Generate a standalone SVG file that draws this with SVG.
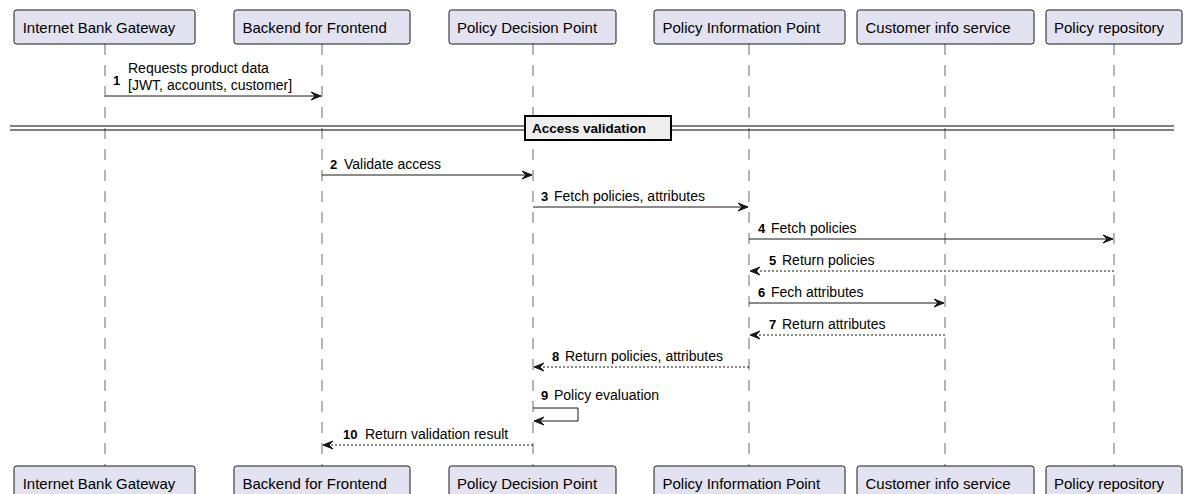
<svg xmlns="http://www.w3.org/2000/svg" width="1184" height="494" viewBox="0 0 1184 494">
<defs>
<style>
.p rect{fill:#E2E2F0;stroke:#181818;stroke-width:1}
.p text{font-family:"Liberation Sans",Arial,sans-serif;font-size:15px;fill:#000}
.life{stroke:#6b6b6b;stroke-width:1;stroke-dasharray:11,10}
.msg{stroke:#181818;stroke-width:1;fill:none}
.ret{stroke:#181818;stroke-width:1;fill:none;stroke-dasharray:2,2}
.t{font-family:"Liberation Sans",Arial,sans-serif;font-size:14px;fill:#000}
.n{font-family:"Liberation Sans",Arial,sans-serif;font-size:13px;font-weight:bold;fill:#000}
.ah{fill:#181818;stroke:#181818;stroke-width:1}
</style>
<marker id="arr" markerWidth="12" markerHeight="10" refX="10" refY="5" orient="auto" markerUnits="userSpaceOnUse">
<polygon points="0,1 10,5 0,9 4,5" class="ah"/>
</marker>
</defs>
<rect width="1184" height="494" fill="#fff"/>
<g id="lifelines">
<line class="life" x1="105" y1="44" x2="105" y2="466"/>
<line class="life" x1="322" y1="44" x2="322" y2="466"/>
<line class="life" x1="533" y1="44" x2="533" y2="466"/>
<line class="life" x1="749" y1="44" x2="749" y2="466"/>
<line class="life" x1="945" y1="44" x2="945" y2="466"/>
<line class="life" x1="1114" y1="44" x2="1114" y2="466"/>
</g>
<g id="p-ibg" class="p">
<rect x="14" y="10" width="181" height="34" rx="2.5"/><text x="22.7" y="33">Internet Bank Gateway</text>
<rect x="14" y="466" width="181" height="34" rx="2.5"/><text x="22.7" y="489">Internet Bank Gateway</text>
</g>
<g id="p-bff" class="p">
<rect x="234" y="10" width="176" height="34" rx="2.5"/><text x="242.5" y="33">Backend for Frontend</text>
<rect x="234" y="466" width="176" height="34" rx="2.5"/><text x="242.5" y="489">Backend for Frontend</text>
</g>
<g id="p-pdp" class="p">
<rect x="449" y="10" width="167" height="34" rx="2.5"/><text x="457" y="33">Policy Decision Point</text>
<rect x="449" y="466" width="167" height="34" rx="2.5"/><text x="457" y="489">Policy Decision Point</text>
</g>
<g id="p-pip" class="p">
<rect x="654" y="10" width="191" height="34" rx="2.5"/><text x="662.5" y="33">Policy Information Point</text>
<rect x="654" y="466" width="191" height="34" rx="2.5"/><text x="662.5" y="489">Policy Information Point</text>
</g>
<g id="p-cis" class="p">
<rect x="857" y="10" width="177" height="34" rx="2.5"/><text x="865.5" y="33">Customer info service</text>
<rect x="857" y="466" width="177" height="34" rx="2.5"/><text x="865.5" y="489">Customer info service</text>
</g>
<g id="p-repo" class="p">
<rect x="1046" y="10" width="136" height="34" rx="2.5"/><text x="1054" y="33">Policy repository</text>
<rect x="1046" y="466" width="136" height="34" rx="2.5"/><text x="1054" y="489">Policy repository</text>
</g>
<g id="divider">
<line x1="10" y1="126" x2="1174" y2="126" stroke="#000" stroke-width="1"/>
<line x1="10" y1="130" x2="1174" y2="130" stroke="#000" stroke-width="1"/>
<rect x="525" y="116" width="146" height="24" fill="#EEEEEE" stroke="#000" stroke-width="2"/>
<text x="532" y="133" font-family="'Liberation Sans',Arial,sans-serif" font-size="13.5" font-weight="bold">Access validation</text>
</g>
<g id="connectors">
<line class="msg" x1="105" y1="96" x2="321" y2="96" marker-end="url(#arr)"/>
<text class="n" x="113" y="85">1</text>
<text class="t" x="128" y="73">Requests product data</text>
<text class="t" x="128" y="90">[JWT, accounts, customer]</text>

<line class="msg" x1="322" y1="175" x2="532" y2="175" marker-end="url(#arr)"/>
<text class="n" x="330" y="169">2</text><text class="t" x="344" y="169">Validate access</text>

<line class="msg" x1="533" y1="207" x2="748" y2="207" marker-end="url(#arr)"/>
<text class="n" x="541" y="201">3</text><text class="t" x="554" y="201">Fetch policies, attributes</text>

<line class="msg" x1="749" y1="239" x2="1113" y2="239" marker-end="url(#arr)"/>
<text class="n" x="758" y="233">4</text><text class="t" x="771" y="233">Fetch policies</text>

<line class="ret" x1="1114" y1="271" x2="750" y2="271" marker-end="url(#arr)"/>
<text class="n" x="769" y="265">5</text><text class="t" x="782" y="265">Return policies</text>

<line class="msg" x1="749" y1="303" x2="944" y2="303" marker-end="url(#arr)"/>
<text class="n" x="758" y="297">6</text><text class="t" x="771" y="297">Fech attributes</text>

<line class="ret" x1="945" y1="335" x2="750" y2="335" marker-end="url(#arr)"/>
<text class="n" x="769" y="329">7</text><text class="t" x="782" y="329">Return attributes</text>

<line class="ret" x1="749" y1="367" x2="534" y2="367" marker-end="url(#arr)"/>
<text class="n" x="552" y="361">8</text><text class="t" x="565" y="361">Return policies, attributes</text>

<polyline class="msg" points="533,408 578,408 578,421 534,421" marker-end="url(#arr)"/>
<text class="n" x="541" y="400">9</text><text class="t" x="554" y="400">Policy evaluation</text>

<line class="ret" x1="533" y1="445" x2="323" y2="445" marker-end="url(#arr)"/>
<text class="n" x="343" y="439">10</text><text class="t" x="365" y="439">Return validation result</text>
</g>
</svg>
